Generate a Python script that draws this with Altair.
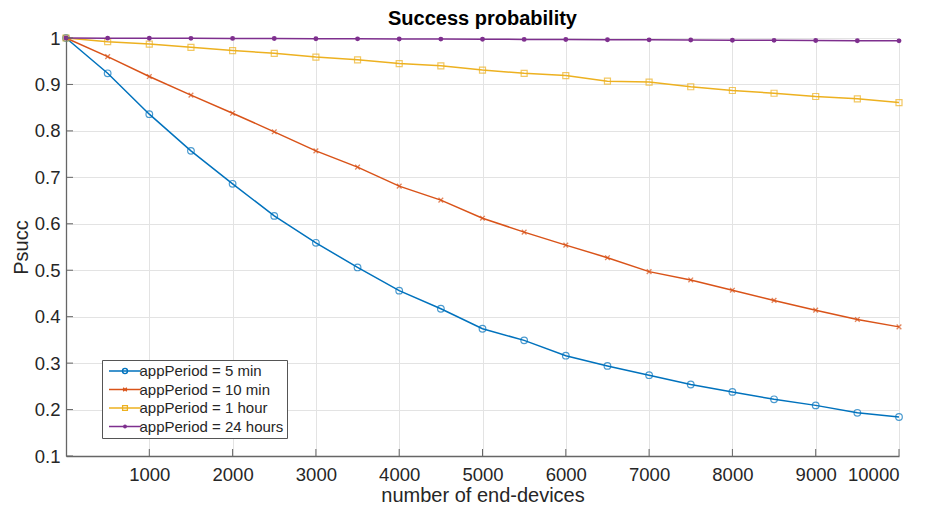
import altair as alt
import pandas as pd

# ---------------- data ----------------
x_vals = [0, 500, 1000, 1500, 2000, 2500, 3000, 3500, 4000, 4500, 5000,
          5500, 6000, 6500, 7000, 7500, 8000, 8500, 9000, 9500, 10000]

p_5min = [1.000, 0.924, 0.836, 0.757, 0.686, 0.617, 0.559, 0.506, 0.456, 0.417, 0.374,
          0.349, 0.316, 0.294, 0.274, 0.254, 0.238, 0.222, 0.209, 0.193, 0.184]
p_10min = [1.000, 0.960, 0.917, 0.877, 0.838, 0.798, 0.757, 0.722, 0.681, 0.651, 0.612,
           0.582, 0.554, 0.527, 0.497, 0.479, 0.457, 0.435, 0.414, 0.394, 0.378]
p_1hour = [1.000, 0.992, 0.987, 0.980, 0.973, 0.967, 0.959, 0.953, 0.945, 0.940, 0.931,
           0.924, 0.919, 0.907, 0.905, 0.895, 0.887, 0.881, 0.874, 0.869, 0.861]
p_24hours = [1.000, 0.9997, 0.9995, 0.9993, 0.9991, 0.9988, 0.9985, 0.9982, 0.9979, 0.9976, 0.9973,
             0.9970, 0.9967, 0.9963, 0.9960, 0.9956, 0.9952, 0.9949, 0.9945, 0.9942, 0.9939]

series_names = ["appPeriod = 5 min", "appPeriod = 10 min",
                "appPeriod = 1 hour", "appPeriod = 24 hours"]
series_colors = ["#0072BD", "#D95319", "#EDB120", "#7E2F8E"]

x_ticks = [1000, 2000, 3000, 4000, 5000, 6000, 7000, 8000, 9000, 10000]
y_ticks = [0.1, 0.2, 0.3, 0.4, 0.5, 0.6, 0.7, 0.8, 0.9, 1.0]

title_text = "Success probability"
x_title = "number of end-devices"
y_title = "Psucc"

# ---------------- build tables ----------------
rows = []
for name, vals in zip(series_names, [p_5min, p_10min, p_1hour, p_24hours]):
    for xv, yv in zip(x_vals, vals):
        rows.append({"n": xv, "p": yv, "series": name})
df = pd.DataFrame(rows)

xtick_df = pd.DataFrame({"n": x_ticks})
ytick_df = pd.DataFrame({"p": y_ticks})

W, H = 833, 418
FONT = "Liberation Sans"
TXT = "#262626"

x_enc = alt.X(
    "n:Q",
    scale=alt.Scale(domain=[0, 10000], nice=False, zero=False),
    axis=alt.Axis(values=x_ticks, format="d", title=x_title, titlePadding=2, labelPadding=9),
)
y_enc = alt.Y(
    "p:Q",
    scale=alt.Scale(domain=[0.1, 1.0], nice=False, zero=False),
    axis=alt.Axis(values=y_ticks, format="~g", title=y_title, titlePadding=3, labelPadding=6),
)

base = alt.Chart(df)

marker_specs = [
    dict(shape="circle", filled=False, size=44, strokeWidth=1.2),
    dict(shape="M-1,-1L1,1M-1,1L1,-1", filled=False, size=22, strokeWidth=1.3),
    dict(shape="square", filled=False, size=36, strokeWidth=1.2),
    dict(shape="circle", filled=True, size=24, opacity=1, strokeWidth=0),
]
series_layers = []
for name, col, spec in zip(series_names, series_colors, marker_specs):
    sub = base.transform_filter(alt.datum.series == name)
    series_layers.append(
        sub.mark_line(strokeWidth=1.5, color=col).encode(x=x_enc, y=y_enc)
    )
    series_layers.append(
        sub.mark_point(color=col, **spec).encode(x=x_enc, y=y_enc)
    )

# legend symbols: line segment with marker in the middle
legend_paths = [
    "M-5.33,0H5.33M0.85,0A0.85,0.85 0 1 1 -0.85,0A0.85,0.85 0 1 1 0.85,0",
    "M-5.33,0H5.33M-0.6,-0.6L0.6,0.6M-0.6,0.6L0.6,-0.6",
    "M-5.33,0H5.33M-0.8,-0.8H0.8V0.8H-0.8Z",
    "M-5.33,0H5.33M0.45,0A0.45,0.45 0 1 1 -0.45,0A0.45,0.45 0 1 1 0.45,0"
    "M0.22,0A0.22,0.22 0 1 1 -0.22,0A0.22,0.22 0 1 1 0.22,0",
]
legend_def = alt.Legend(
    title=None,
    orient="none",
    legendX=36,
    legendY=322,
    symbolSize=36,
    symbolStrokeWidth=1.3,
    symbolOffset=12,
    symbolOpacity=1,
    labelOffset=7,
    labelFont=FONT,
    labelFontSize=15,
    labelColor=TXT,
    fillColor="white",
    strokeColor="#555555",
    padding=3.5,
    rowPadding=2.5,
)
legend_layer = base.mark_point(opacity=0, filled=False).encode(
    x=x_enc,
    y=y_enc,
    color=alt.Color("series:N", scale=alt.Scale(domain=series_names, range=series_colors),
                    legend=legend_def),
    shape=alt.Shape("series:N", scale=alt.Scale(domain=series_names, range=legend_paths),
                    legend=legend_def),
)

# inward tick marks (MATLAB style)
xticks_layer = alt.Chart(xtick_df).mark_rule(color="#666666", strokeWidth=1).encode(
    x=x_enc, y=alt.value(H), y2=alt.value(H - 7)
)
yticks_layer = alt.Chart(ytick_df).mark_rule(color="#666666", strokeWidth=1).encode(
    y=y_enc, x=alt.value(0), x2=alt.value(7)
)

chart = (
    alt.layer(*series_layers, legend_layer, xticks_layer, yticks_layer)
    .properties(
        width=W,
        height=H,
        autosize=alt.AutoSizeParams(type="none"),
        padding={"left": 66, "top": 38, "right": 32, "bottom": 56},
        title=alt.Title(title_text, font=FONT, fontSize=20, fontWeight="bold",
                        color="#000000", anchor="middle", offset=0),
    )
    .configure_view(stroke=None)
    .configure_axis(
        labelFont=FONT,
        labelFontSize=18.5,
        labelColor=TXT,
        titleFont=FONT,
        titleFontSize=20,
        titleFontWeight="normal",
        titleColor=TXT,
        grid=True,
        gridColor="#e3e3e3",
        gridWidth=1,
        domainColor="#666666",
        domainWidth=1.3,
        ticks=False,
        tickSize=0,
    )
)

chart.save("out.html", embed_options={"renderer": "svg", "actions": False})
